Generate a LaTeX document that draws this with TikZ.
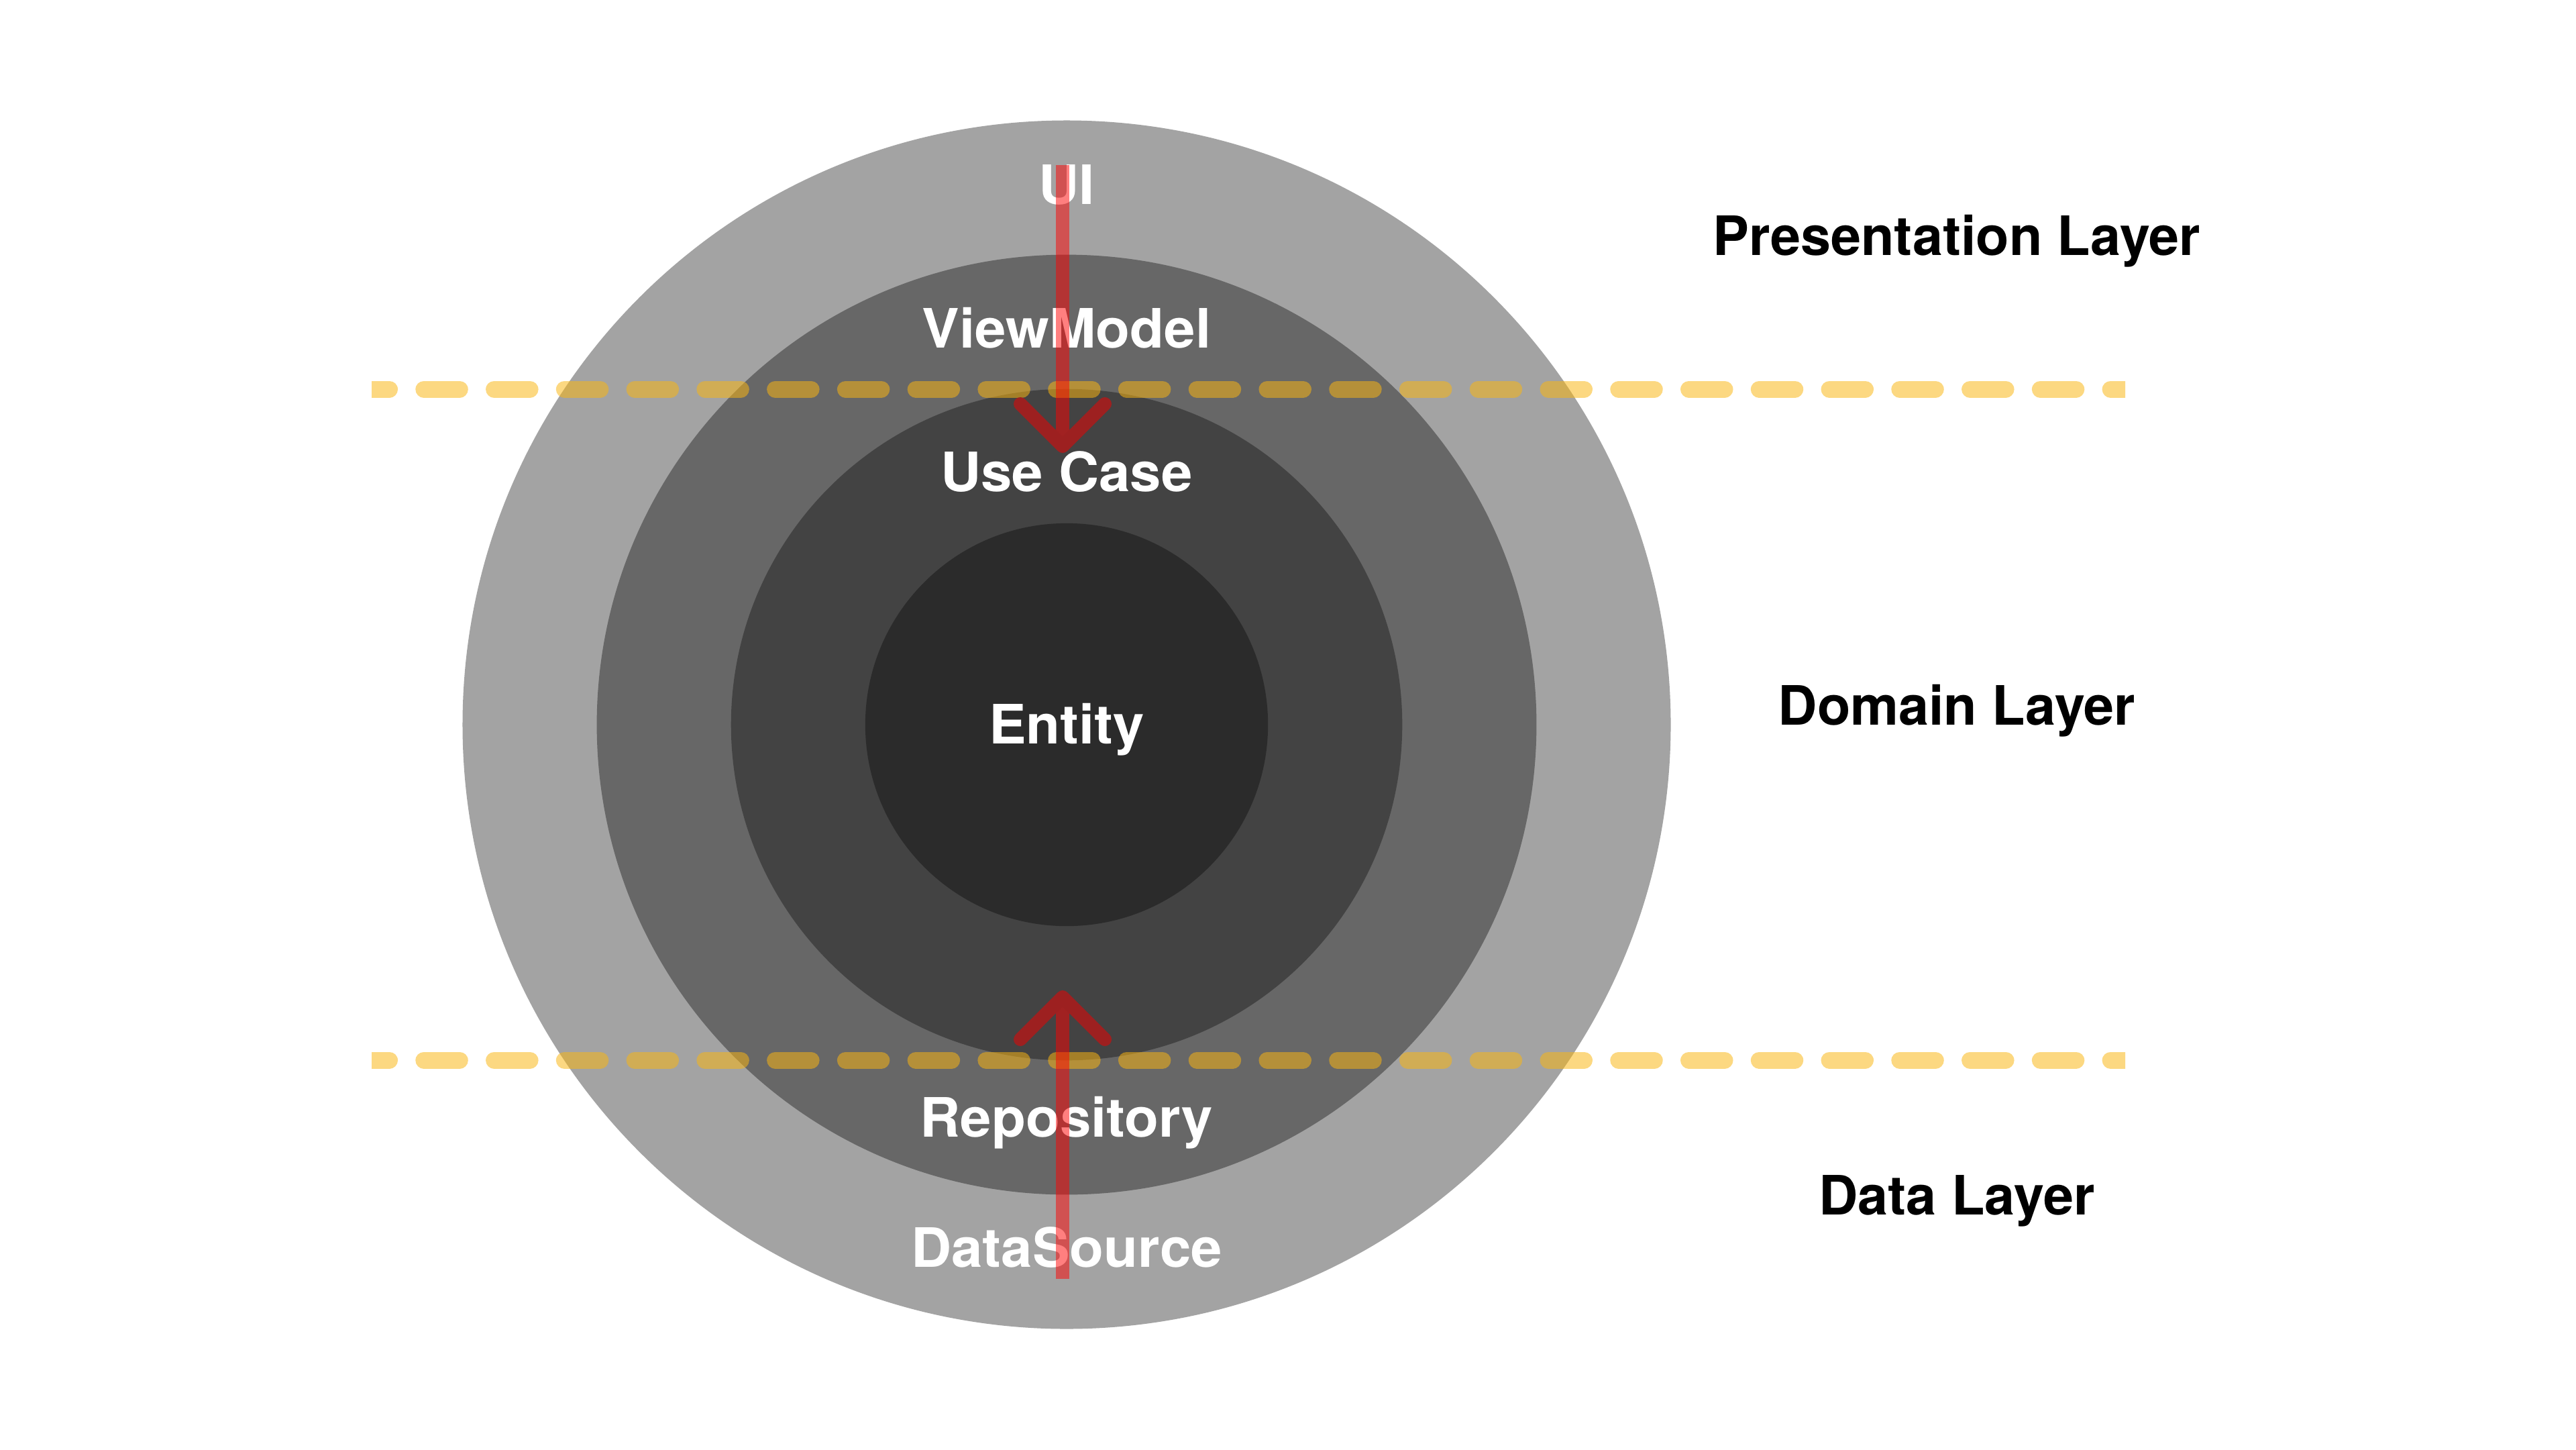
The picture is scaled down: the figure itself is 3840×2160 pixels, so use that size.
\documentclass[tikz,border=0pt]{standalone}
\usepackage{fontspec}
\setmainfont{TeX Gyre Heros}
\newfontfamily\ringfont[FakeStretch=1.03]{TeX Gyre Heros}
\usetikzlibrary{calc}
\definecolor{ringA}{HTML}{A3A3A3}
\definecolor{ringB}{HTML}{676767}
\definecolor{ringC}{HTML}{434343}
\definecolor{ringD}{HTML}{2B2B2B}
\definecolor{dashyel}{RGB}{251,182,17}
\definecolor{chevred}{RGB}{157,32,32}
\begin{document}
\begin{tikzpicture}[x=0.01cm,y=-0.01cm,
  ring/.style={circle,inner sep=0pt,draw=none},
  lbl/.style={anchor=base,inner sep=0pt,text=white,font=\ringfont\fontsize{23}{28}\selectfont\bfseries},
  side/.style={anchor=base,inner sep=0pt,text=black,font=\fontsize{23}{28}\selectfont\bfseries},
  layerline/.style={draw=dashyel,draw opacity=0.53,line width=0.25cm,line cap=round,dash pattern=on 0.534cm off 0.513cm,dash phase=0.269cm},
  shaft/.style={draw=red,draw opacity=0.5,line width=0.2cm},
  chev/.style={draw=chevred,line width=0.2cm,line cap=round,line join=round}]
\useasboundingbox (0,0) rectangle (3840,2160);
\fill[white] (0,0) rectangle (3840,2160);
% rings
\node[ring,fill=ringA,minimum size=18cm] (outer) at (1590,1080) {};
\node[ring,fill=ringB,minimum size=14cm] (mid) at (1590,1080) {};
\node[ring,fill=ringC,minimum size=10cm] (inner) at (1590,1080) {};
\node[ring,fill=ringD,minimum size=6cm] (core) at (1590,1080) {};
% ring labels
\node[lbl] (ui) at (1590,304) {UI};
\node[lbl] (vm) at (1590,518) {ViewModel};
\node[lbl] (uc) at (1590,732) {Use Case};
\node[lbl] (ent) at (1590,1108) {Entity};
\node[lbl] (repo) at (1590,1694) {Repository};
\node[lbl] (ds) at (1590,1888) {DataSource};
% side labels
\node[side] (pres) at (2917,380) {Presentation Layer};
\node[side] (dom) at (2917,1080) {Domain Layer};
\node[side] (data) at (2917,1810) {Data Layer};
% layer separators
\coordinate (sepTL) at (554,580);
\coordinate (sepTR) at (3168,580);
\coordinate (sepBL) at (554,1580);
\coordinate (sepBR) at (3168,1580);
\begin{scope}
\clip (554,0) rectangle (3168,2160);
\draw[layerline] (sepTL) -- (sepTR);
\draw[layerline] (sepBL) -- (sepBR);
\end{scope}
% arrows
\coordinate (topStart) at (1584,246);
\coordinate (topTip) at (1584,665);
\coordinate (botStart) at (1584,1906);
\coordinate (botTip) at (1584,1486);
\draw[shaft] (topStart) -- (topTip);
\draw[shaft] (botStart) -- (botTip);
\draw[chev] ($(topTip)+(-63,-63)$) -- (topTip) -- ($(topTip)+(63,-63)$);
\draw[chev] ($(botTip)+(-63,63)$) -- (botTip) -- ($(botTip)+(63,63)$);
\end{tikzpicture}
\end{document}
